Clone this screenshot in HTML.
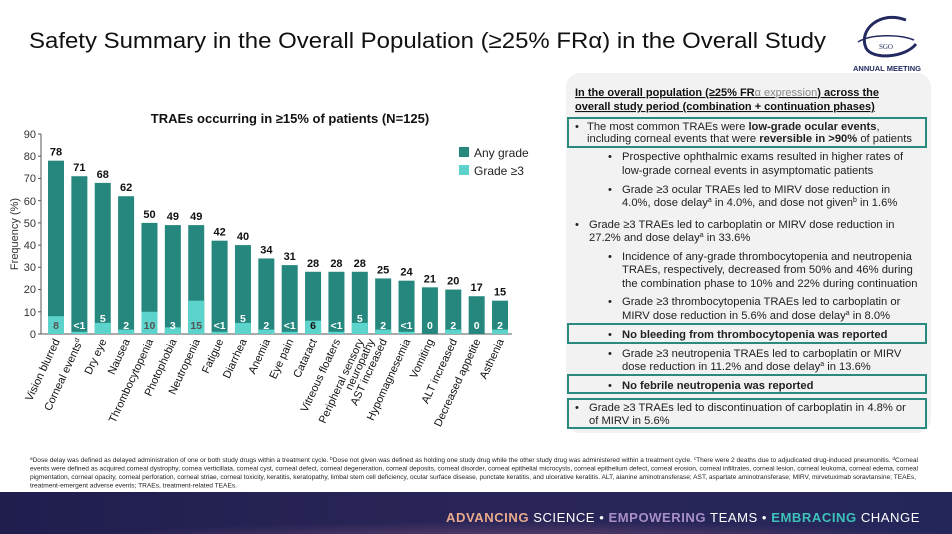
<!DOCTYPE html>
<html><head><meta charset="utf-8"><style>
html,body{margin:0;padding:0;background:#fff;}
svg{display:block;font-family:"Liberation Sans",Arial,sans-serif;}
</style></head><body>
<svg width="952" height="534" viewBox="0 0 952 534" xmlns="http://www.w3.org/2000/svg">
<defs>
<linearGradient id="fg" x1="0" y1="0" x2="1" y2="0">
<stop offset="0" stop-color="#1f1e4f"/><stop offset="0.5" stop-color="#2a2558"/><stop offset="1" stop-color="#24265a"/>
</linearGradient>
<radialGradient id="glow" cx="0.55" cy="1.2" r="0.5">
<stop offset="0" stop-color="#8a5a7a" stop-opacity="0.6"/><stop offset="1" stop-color="#8a5a7a" stop-opacity="0"/>
</radialGradient>
</defs>
<rect width="952" height="534" fill="#fff"/>
<text x="29" y="48" font-size="22.5" fill="#111" textLength="797" lengthAdjust="spacingAndGlyphs">Safety Summary in the Overall Population (≥25% FRα) in the Overall Study</text>
<g fill="none" stroke="#232a60">
<path d="M906 20 C 880 10, 858 30, 866 48 C 872 60, 905 58, 916 44" stroke-width="3"/>
<path d="M858 42 C 870 34, 900 34, 914 40" stroke-width="1.5"/>
</g>
<text x="886" y="49" font-size="7" font-family="Liberation Serif,serif" fill="#232a60" text-anchor="middle">SGO</text>
<text x="887" y="71" font-size="7.5" font-weight="bold" fill="#232a60" text-anchor="middle" textLength="68" lengthAdjust="spacingAndGlyphs">ANNUAL MEETING</text>

<text x="290" y="123" font-size="13" font-weight="bold" text-anchor="middle" fill="#111">TRAEs occurring in ≥15% of patients (N=125)</text>
<g font-size="11" fill="#333" text-anchor="end">
<text x="36" y="338">0</text><text x="36" y="316">10</text><text x="36" y="293">20</text><text x="36" y="271">30</text><text x="36" y="249">40</text><text x="36" y="227">50</text><text x="36" y="205">60</text><text x="36" y="182">70</text><text x="36" y="160">80</text><text x="36" y="138">90</text>
</g>
<g stroke="#555" stroke-width="1">
<line x1="41" y1="134" x2="41" y2="334"/>
<line x1="41" y1="334" x2="512" y2="334"/>
<line x1="38" y1="334" x2="41" y2="334"/><line x1="38" y1="311.8" x2="41" y2="311.8"/><line x1="38" y1="289.6" x2="41" y2="289.6"/><line x1="38" y1="267.3" x2="41" y2="267.3"/><line x1="38" y1="245.1" x2="41" y2="245.1"/><line x1="38" y1="222.9" x2="41" y2="222.9"/><line x1="38" y1="200.7" x2="41" y2="200.7"/><line x1="38" y1="178.4" x2="41" y2="178.4"/><line x1="38" y1="156.2" x2="41" y2="156.2"/><line x1="38" y1="134" x2="41" y2="134"/>
</g>
<text transform="translate(18,234) rotate(-90)" font-size="11" fill="#333" text-anchor="middle">Frequency (%)</text>
<g id="bars"></g>
<rect x="459" y="147" width="10" height="10" fill="#25877e"/>
<rect x="459" y="165" width="10" height="10" fill="#5cd3cb"/>
<text x="474" y="157" font-size="12" fill="#222">Any grade</text>
<text x="474" y="175" font-size="12" fill="#222">Grade ≥3</text>

<rect x="566" y="73" width="365" height="360" rx="14" fill="#f2f2f2"/>
<g fill="none" stroke="#2a8a80" stroke-width="2">
<rect x="568" y="118" width="358" height="29"/>
<rect x="568" y="324" width="358" height="19"/>
<rect x="568" y="375" width="358" height="18"/>
<rect x="568" y="399" width="358" height="29"/>
</g>
<g font-size="11" font-weight="bold" fill="#111" text-decoration="underline">
<text x="575" y="96">In the overall population (≥25% FR<tspan fill="#888" font-weight="normal">α expression</tspan>) across the</text>
<text x="575" y="110">overall study period (combination + continuation phases)</text>
</g>
<g font-size="11.2" fill="#222">
<text x="575" y="130">•</text>
<text x="587" y="130">The most common TRAEs were <tspan font-weight="bold">low-grade ocular events</tspan>,</text>
<text x="587" y="142">including corneal events that were <tspan font-weight="bold">reversible in &gt;90%</tspan> of patients</text>
<text x="608" y="160">•</text>
<text x="622" y="160">Prospective ophthalmic exams resulted in higher rates of</text>
<text x="622" y="174">low-grade corneal events in asymptomatic patients</text>
<text x="608" y="193">•</text>
<text x="622" y="193">Grade ≥3 ocular TRAEs led to MIRV dose reduction in</text>
<text x="622" y="206">4.0%, dose delay<tspan font-size="7" dy="-4">a</tspan><tspan dy="4"> in 4.0%, and dose not given</tspan><tspan font-size="7" dy="-4">b</tspan><tspan dy="4"> in 1.6%</tspan></text>
<text x="575" y="228">•</text>
<text x="589" y="228">Grade ≥3 TRAEs led to carboplatin or MIRV dose reduction in</text>
<text x="589" y="241">27.2% and dose delay<tspan font-size="7" dy="-4">a</tspan><tspan dy="4"> in 33.6%</tspan></text>
<text x="608" y="260">•</text>
<text x="622" y="260">Incidence of any-grade thrombocytopenia and neutropenia</text>
<text x="622" y="273">TRAEs, respectively, decreased from 50% and 46% during</text>
<text x="622" y="287">the combination phase to 10% and 22% during continuation</text>
<text x="608" y="305">•</text>
<text x="622" y="305">Grade ≥3 thrombocytopenia TRAEs led to carboplatin or</text>
<text x="622" y="319">MIRV dose reduction in 5.6% and dose delay<tspan font-size="7" dy="-4">a</tspan><tspan dy="4"> in 8.0%</tspan></text>
<text x="608" y="338">•</text>
<text x="622" y="338" font-weight="bold">No bleeding from thrombocytopenia was reported</text>
<text x="608" y="357">•</text>
<text x="622" y="357">Grade ≥3 neutropenia TRAEs led to carboplatin or MIRV</text>
<text x="622" y="370">dose reduction in 11.2% and dose delay<tspan font-size="7" dy="-4">a</tspan><tspan dy="4"> in 13.6%</tspan></text>
<text x="608" y="389">•</text>
<text x="622" y="389" font-weight="bold">No febrile neutropenia was reported</text>
<text x="575" y="411">•</text>
<text x="589" y="411">Grade ≥3 TRAEs led to discontinuation of carboplatin in 4.8% or</text>
<text x="589" y="424">of MIRV in 5.6%</text>
</g>

<g font-size="6.4" fill="#222">
<text x="30" y="462" textLength="888" lengthAdjust="spacingAndGlyphs"><tspan font-size="4.5" dy="-2">a</tspan><tspan dy="2">Dose delay was defined as delayed administration of one or both study drugs within a treatment cycle. </tspan><tspan font-size="4.5" dy="-2">b</tspan><tspan dy="2">Dose not given was defined as holding one study drug while the other study drug was administered within a treatment cycle. </tspan><tspan font-size="4.5" dy="-2">c</tspan><tspan dy="2">There were 2 deaths due to adjudicated drug-induced pneumonitis. </tspan><tspan font-size="4.5" dy="-2">d</tspan><tspan dy="2">Corneal</tspan></text>
<text x="30" y="470.5" textLength="888" lengthAdjust="spacingAndGlyphs">events were defined as acquired corneal dystrophy, cornea verticillata, corneal cyst, corneal defect, corneal degeneration, corneal deposits, corneal disorder, corneal epithelial microcysts, corneal epithelium defect, corneal erosion, corneal infiltrates, corneal lesion, corneal leukoma, corneal edema, corneal</text>
<text x="30" y="479" textLength="886" lengthAdjust="spacingAndGlyphs">pigmentation, corneal opacity, corneal perforation, corneal striae, corneal toxicity, keratitis, keratopathy, limbal stem cell deficiency, ocular surface disease, punctate keratitis, and ulcerative keratitis. ALT, alanine aminotransferase; AST, aspartate aminotransferase; MIRV, mirvetuximab soravtansine; TEAEs,</text>
<text x="30" y="487.5" textLength="207" lengthAdjust="spacingAndGlyphs">treatment-emergent adverse events; TRAEs, treatment-related TEAEs.</text>
</g>

<rect x="0" y="492" width="952" height="42" fill="url(#fg)"/>
<rect x="0" y="492" width="952" height="42" fill="url(#glow)"/>
<text x="446" y="522" font-size="12.5" fill="#fff" textLength="474" lengthAdjust="spacingAndGlyphs" letter-spacing="0.5"><tspan fill="#e9a98c" font-weight="bold">ADVANCING</tspan> SCIENCE • <tspan fill="#a88fc6" font-weight="bold">EMPOWERING</tspan> TEAMS • <tspan fill="#3ec1b9" font-weight="bold">EMBRACING</tspan> CHANGE</text>
</svg>
<script>
(function(){
var names=["Vision blurred","Corneal events|d","Dry eye","Nausea","Thrombocytopenia","Photophobia","Neutropenia","Fatigue","Diarrhea","Anemia","Eye pain","Cataract","Vitreous floaters","Peripheral sensory","AST increased","Hypomagnesemia","Vomiting","ALT increased","Decreased appetite","Asthenia"];
var v=[78,71,68,62,50,49,49,42,40,34,31,28,28,28,25,24,21,20,17,15];
var g=[8,1,5,2,10,3,15,1,5,2,1,6,1,5,2,1,0,2,0,2];
var gl=["8","<1","5","2","10","3","15","<1","5","2","<1","6","<1","5","2","<1","0","2","0","2"];
var gc=["#555","#fff","#fff","#fff","#555","#fff","#555","#fff","#fff","#fff","#fff","#111","#fff","#fff","#fff","#fff","#fff","#fff","#fff","#fff"];
var ns="http://www.w3.org/2000/svg",G=document.getElementById("bars");
function y(a){return 334-2.2222*a;}
function el(t,a,txt){var e=document.createElementNS(ns,t);for(var k in a)e.setAttribute(k,a[k]);if(txt!=null)e.textContent=txt;G.appendChild(e);return e;}
for(var i=0;i<20;i++){
 var cx=56+23.37*i;
 el("rect",{x:cx-8,y:y(v[i]),width:16,height:334-y(v[i]),fill:"#25877e"});
 if(g[i]>0) el("rect",{x:cx-8,y:y(g[i]),width:16,height:334-y(g[i]),fill:"#5cd3cb"});
 el("text",{x:cx,y:y(v[i])-5,"font-size":11,"font-weight":"bold","text-anchor":"middle",fill:"#111"},String(v[i]));
 var ly=(gl[i]==="5")?322:329;
 el("text",{x:cx,y:ly,"font-size":10.5,"font-weight":"bold","text-anchor":"middle",fill:gc[i]},gl[i]);
 var nm=names[i];
 var t=el("text",{transform:"translate("+(cx+4)+",341) rotate(-65)","font-size":11,"text-anchor":"end",fill:"#111"});
 if(nm.indexOf("|")>=0){var p=nm.split("|");t.textContent=p[0];var s=document.createElementNS(ns,"tspan");s.setAttribute("font-size","7");s.setAttribute("dy","-4");s.textContent=p[1];t.appendChild(s);}
 else t.textContent=nm;
 if(i===13){el("text",{transform:"translate("+(cx+15)+",341) rotate(-65)","font-size":11,"text-anchor":"end",fill:"#111"},"neuropathy");}
}
})();
</script>
</body></html>
